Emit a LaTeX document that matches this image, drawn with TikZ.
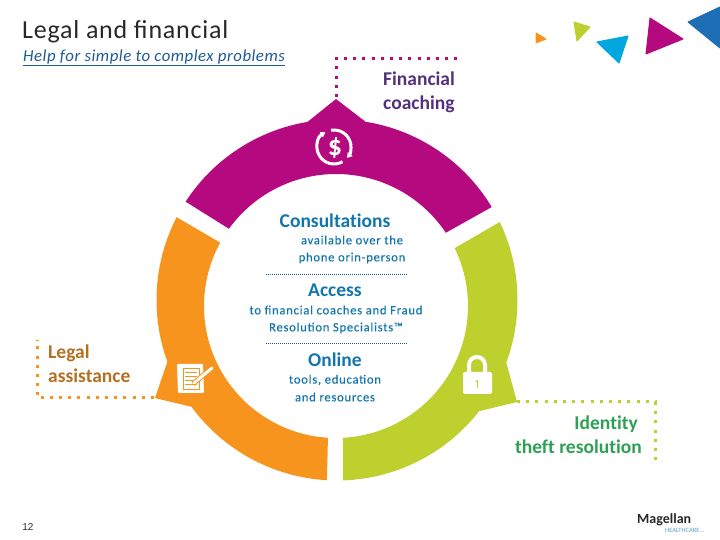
\documentclass[tikz,border=0pt]{standalone}
\usepackage{fontspec}
\usepackage{tikz}
\usetikzlibrary{arrows.meta}
\setmainfont[Ligatures=NoCommon]{Carlito}
\newfontfamily\arialfont{Liberation Sans}
\newfontfamily\spacedfont[LetterSpace=6,FakeBold=0.3]{Carlito}
\definecolor{segmagenta}{RGB}{181, 9, 127}
\definecolor{segorange}{RGB}{247, 148, 30}
\definecolor{seglime}{RGB}{189, 208, 46}
\definecolor{bodyblue}{RGB}{18, 118, 172}
\definecolor{navyblue}{RGB}{30, 90, 150}
\definecolor{skyblue}{RGB}{0, 167, 222}
\definecolor{deepblue}{RGB}{30, 110, 182}
\definecolor{coachpurple}{RGB}{84, 48, 124}
\definecolor{legalbrown}{RGB}{178, 112, 32}
\definecolor{theftgreen}{RGB}{46, 160, 84}
\definecolor{titlegray}{RGB}{40, 40, 40}
\tikzset{
  headtext/.style={inner sep=0pt, text=bodyblue, font=\bfseries\fontsize{19.5}{21}\selectfont},
  subtext/.style={inner sep=0pt, text=bodyblue, font=\spacedfont\fontsize{12.6}{15}\selectfont},
  labeltext/.style={inner sep=0pt, align=left, font=\bfseries\fontsize{19.5}{24}\selectfont},
  leader/.style={line width=3pt, dash pattern=on 3pt off 6.2pt},
  divider/.style={line width=0.5pt, navyblue, dash pattern=on 1pt off 1pt},
  chip/.style={line width=1pt, line join=round}
}
\begin{document}
\begin{tikzpicture}[x=1pt, y=1pt]
  \useasboundingbox (0,0) rectangle (720,540);
  % ring segments
  \fill[segmagenta] ([shift={(337,240)}]147:180.5) arc (147:99.4:180.5) -- (336,441) -- ([shift={(337,240)}]80.9:180.5) arc (80.9:31:180.5) -- ([shift={(336,234)}]33.7:132) arc (33.7:144.2:132) -- cycle;
  \fill[segorange] ([shift={(337,240)}]152.7:180.5) arc (152.7:200:180.5) -- (155,142) -- ([shift={(337,240)}]216.3:180.5) arc (216.3:266.8:180.5) -- ([shift={(336,234)}]266.5:132) arc (266.5:151.3:132) -- cycle;
  \fill[seglime] ([shift={(337,240)}]271.9:180.5) arc (271.9:322:180.5) -- (517,138) -- ([shift={(337,240)}]339.7:180.5) arc (339.7:385.6:180.5) -- ([shift={(336,234)}]26:132) arc (26:-87:132) -- cycle;

  % corner triangles
  \filldraw[chip, segorange] (536,507) -- (546,501) -- (536,497) -- cycle;
  \filldraw[chip, seglime] (574,518) -- (590,513) -- (577,499) -- cycle;
  \filldraw[chip, skyblue] (597,498) -- (628,504) -- (619,477) -- cycle;
  \filldraw[chip, segmagenta] (650,522) -- (683,501) -- (646,486) -- cycle;
  \filldraw[chip, deepblue] (688,518) -- (720,533) -- (720,492) -- cycle;

  % leader lines
  \coordinate (coachtip) at (336,443);
  \coordinate (coachbend) at (336,481);
  \coordinate (coachend) at (459,481);
  \coordinate (legaltip) at (154,142);
  \coordinate (legalbend) at (37,142);
  \coordinate (legalend) at (37,200);
  \coordinate (thefttip) at (517,138);
  \coordinate (theftbend) at (655,138);
  \coordinate (theftend) at (655,78);
  \draw[leader, segmagenta] (coachtip) -- (coachbend) -- (coachend);
  \draw[leader, segorange] (legaltip) -- (legalbend) -- (legalend);
  \draw[leader, seglime] (thefttip) -- (theftbend) -- (theftend);

  % titles
  \node[inner sep=0pt, anchor=west, text=titlegray, font=\addfontfeature{LetterSpace=3,Ligatures=Common}\fontsize{26}{28}\selectfont] (title) at (22,508) {Legal and financial};
  \node[inner sep=0pt, anchor=west, text=navyblue, font=\addfontfeature{LetterSpace=3}\itshape\fontsize{16.8}{18}\selectfont] (subtitle) at (23,482) {\underline{Help for simple to complex problems}};

  % outer labels
  \node[labeltext, anchor=north west, text=coachpurple] (coach) at (383,468) {Financial\\coaching};
  \node[labeltext, anchor=north west, text=legalbrown] (legal) at (48,195) {Legal\\assistance};
  \node[labeltext, anchor=north east, align=right, text=theftgreen] (theft) at (642,124) {Identity\hspace*{4pt}\\theft resolution};

  % centre text
  \node[headtext] (consult) at (335,319) {Consultations};
  \node[subtext] (consulta) at (352,300) {available over the};
  \node[subtext] (consultb) at (352,282) {phone orin-person};
  \coordinate (divaleft) at (266,266);
  \coordinate (divaright) at (408,266);
  \draw[divider] (divaleft) -- (divaright);
  \node[headtext] (access) at (335,250) {Access};
  \node[subtext] (accessa) at (336,230) {to financial coaches and Fraud};
  \node[subtext] (accessb) at (336,212) {Resolution Specialists™};
  \coordinate (divbleft) at (266,197);
  \coordinate (divbright) at (408,197);
  \draw[divider] (divbleft) -- (divbright);
  \node[headtext] (online) at (335,180) {Online};
  \node[subtext] (onlinea) at (335,160) {tools, education};
  \node[subtext] (onlineb) at (335,143) {and resources};

  % dollar icon
  \draw[white, line width=3pt, -{Triangle[length=5pt,width=6pt]}] (334,393) ++(100:17) arc (100:-40:17);
  \draw[white, line width=3pt, -{Triangle[length=5pt,width=6pt]}] (334,393) ++(-60:17) arc (-60:-240:17);
  \node[inner sep=0pt, text=white, font=\bfseries\fontsize{28}{28}\selectfont] (dollar) at (335,392) {\$};

  % form icon
  \fill[white, rounded corners=1pt] (177,176) -- (203,176) -- (204,147) -- (178,147) -- cycle;
  \draw[segorange, line width=0.7pt] (183,172) rectangle (199,151);
  \foreach \ly in {168,164,160,156} {
    \draw[segorange, line width=0.7pt] (185,\ly) -- (197,\ly);
  }
  \draw[segorange, line width=5pt] (193,156) -- (213,173);
  \draw[white, line width=3pt, line cap=round] (194,157) -- (212,172);

  % lock icon
  \draw[white, line width=4pt] (469,168) -- (469,175) arc (180:0:8) -- (485,168);
  \fill[white, rounded corners=2pt] (463,168) rectangle (492,146);
  \draw[seglime, line width=1pt, -{Triangle[length=2pt,width=3pt]}] (477,152) -- (477,160);

  % footer
  \node[inner sep=0pt, text=titlegray, font=\arialfont\fontsize{10}{12}\selectfont] (pagenum) at (28,13) {12};
  \node[inner sep=0pt, anchor=west, text=titlegray, font=\bfseries\fontsize{14}{14}\selectfont] (logo) at (637,20) {Magellan};
  \node[inner sep=0pt, anchor=west, text=bodyblue!70, font=\fontsize{6.5}{6.5}\selectfont] (logosub) at (665,10) {HEALTHCARE ..};
\end{tikzpicture}
\end{document}
